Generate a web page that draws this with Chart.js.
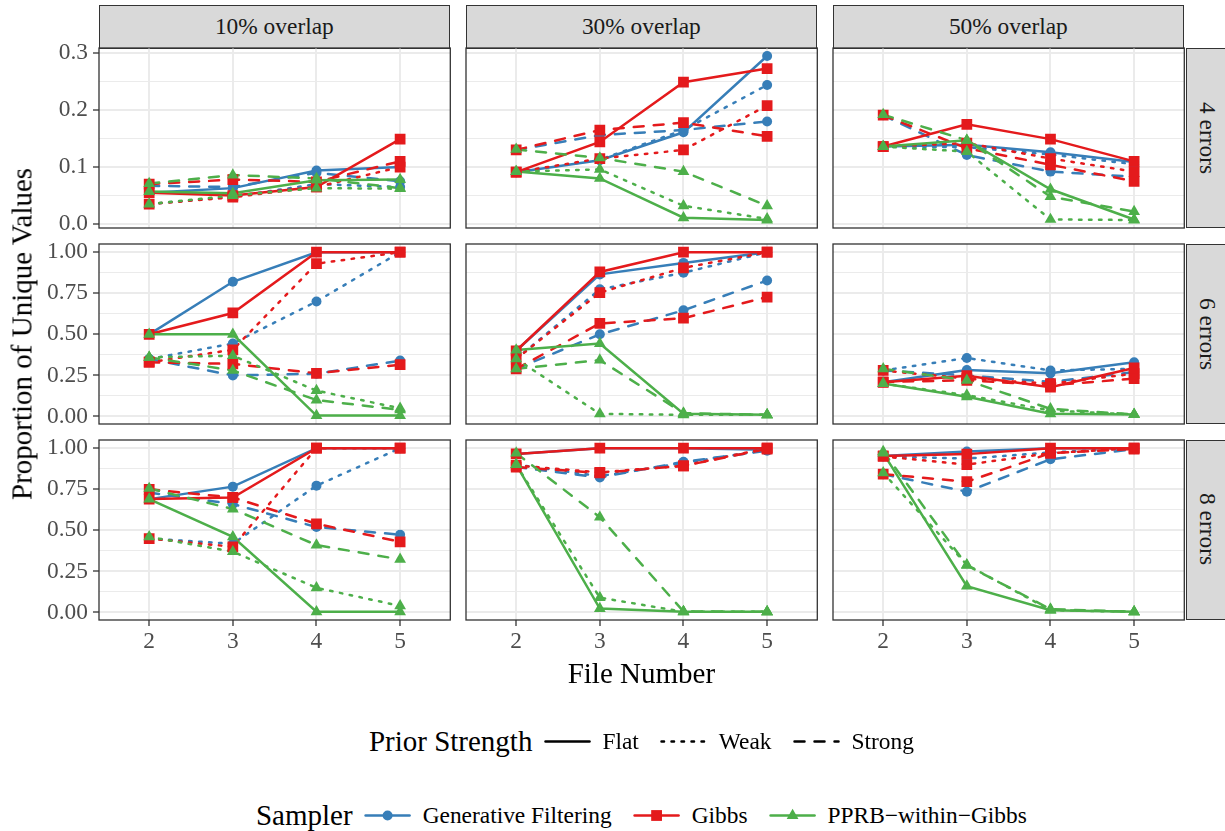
<!DOCTYPE html>
<html>
<head>
<meta charset="utf-8">
<script src="https://cdn.jsdelivr.net/npm/chart.js@4.4.1/dist/chart.umd.min.js"></script>
<style>
  html, body { margin: 0; padding: 0; background: #fff; }
  #page { position: relative; width: 1225px; height: 831px; overflow: hidden; font-family: 'Liberation Serif', 'Times New Roman', serif; }
  .strip { position: absolute; box-sizing: border-box; background: #d9d9d9; border: 1.3px solid #333; color: #1a1a1a; font-size: 23.4px; display: flex; align-items: center; justify-content: center; white-space: nowrap; }
  .strip.side { writing-mode: vertical-rl; }
  .panel { position: absolute; }
  .label { position: absolute; white-space: nowrap; color: #000; transform: translate(-50%, -50%); }
  .legend { position: absolute; display: flex; align-items: center; transform: translate(-50%, -50%); white-space: nowrap; }
  .legend .title { font-size: 29px; margin-right: 12px; }
  .legend .item { font-size: 23.4px; margin-left: 12px; margin-right: 22px; }
  .legend .item:last-child { margin-right: 0; }
  .legend svg { display: block; overflow: visible; }
</style>
</head>
<body>
<div id="page"></div>
<script>
// Facets: columns = overlap, rows = number of errors
const fileNumbers = [2, 3, 4, 5];
const overlapLabels = ['10% overlap', '30% overlap', '50% overlap'];
const errorLabels = ['4 errors', '6 errors', '8 errors'];
const samplerNames = ['Generative Filtering', 'Gibbs', 'PPRB\u2212within\u2212Gibbs'];
const priorNames = ['Flat', 'Weak', 'Strong'];

const yTicksTop = [0, 0.1, 0.2, 0.3];
const yMinorTop = [0.05, 0.15, 0.25];
const yTicksLower = [0, 0.25, 0.5, 0.75, 1];
const yMinorLower = [0.125, 0.375, 0.625, 0.875];

// each panel: GF flat/weak/strong, Gibbs flat/weak/strong, PPRB flat/weak/strong
const e4_o10 = [
  [0.055, 0.063, 0.094, 0.100], [0.035, 0.048, 0.070, 0.065], [0.067, 0.065, 0.090, 0.075],
  [0.055, 0.050, 0.065, 0.149], [0.035, 0.047, 0.065, 0.100], [0.070, 0.078, 0.074, 0.110],
  [0.057, 0.054, 0.077, 0.078], [0.035, 0.050, 0.063, 0.062], [0.071, 0.086, 0.080, 0.063]
];
const e4_o30 = [
  [0.091, 0.112, 0.161, 0.295], [0.091, 0.113, 0.165, 0.244], [0.130, 0.156, 0.165, 0.180],
  [0.091, 0.144, 0.249, 0.273], [0.091, 0.115, 0.130, 0.208], [0.130, 0.165, 0.178, 0.154],
  [0.092, 0.080, 0.011, 0.007], [0.092, 0.096, 0.032, 0.009], [0.131, 0.116, 0.092, 0.032]
];
const e4_o50 = [
  [0.136, 0.139, 0.126, 0.109], [0.136, 0.135, 0.122, 0.105], [0.191, 0.121, 0.092, 0.083],
  [0.136, 0.175, 0.149, 0.110], [0.136, 0.142, 0.115, 0.092], [0.191, 0.133, 0.104, 0.075],
  [0.136, 0.147, 0.061, 0.008], [0.136, 0.127, 0.008, 0.007], [0.192, 0.147, 0.048, 0.022]
];
const e6_o10 = [
  [0.50, 0.82, 1.00, 1.00], [0.35, 0.444, 0.70, 1.00], [0.35, 0.25, 0.26, 0.34],
  [0.50, 0.63, 1.00, 1.00], [0.33, 0.406, 0.93, 1.00], [0.33, 0.32, 0.263, 0.315],
  [0.50, 0.50, 0.005, 0.005], [0.36, 0.37, 0.157, 0.05], [0.36, 0.28, 0.10, 0.04]
];
const e6_o30 = [
  [0.40, 0.865, 0.935, 1.00], [0.35, 0.774, 0.875, 1.00], [0.29, 0.50, 0.646, 0.828],
  [0.40, 0.88, 1.00, 1.00], [0.35, 0.754, 0.905, 1.00], [0.29, 0.566, 0.598, 0.727],
  [0.404, 0.444, 0.016, 0.01], [0.35, 0.016, 0.01, 0.01], [0.29, 0.343, 0.02, 0.01]
];
const e6_o50 = [
  [0.208, 0.283, 0.263, 0.33], [0.28, 0.356, 0.28, 0.29], [0.28, 0.25, 0.21, 0.27],
  [0.208, 0.248, 0.178, 0.295], [0.28, 0.23, 0.20, 0.26], [0.21, 0.22, 0.19, 0.23],
  [0.20, 0.12, 0.016, 0.012], [0.20, 0.13, 0.036, 0.012], [0.29, 0.22, 0.046, 0.012]
];
const e8_o10 = [
  [0.69, 0.766, 1.00, 1.00], [0.45, 0.418, 0.772, 1.00], [0.73, 0.66, 0.52, 0.473],
  [0.69, 0.70, 1.00, 1.00], [0.45, 0.40, 1.00, 1.00], [0.75, 0.70, 0.54, 0.43],
  [0.69, 0.46, 0.004, 0.004], [0.46, 0.37, 0.15, 0.04], [0.755, 0.63, 0.41, 0.323]
];
const e8_o30 = [
  [0.965, 1.00, 1.00, 0.99], [0.90, 0.83, 0.91, 0.99], [0.885, 0.822, 0.917, 0.984],
  [0.965, 1.00, 1.00, 1.00], [0.895, 0.853, 0.893, 1.00], [0.885, 0.85, 0.893, 0.995],
  [0.90, 0.024, 0.004, 0.004], [0.90, 0.09, 0.004, 0.004], [0.97, 0.58, 0.006, 0.004]
];
const e8_o50 = [
  [0.953, 0.98, 1.00, 1.00], [0.95, 0.937, 0.974, 1.00], [0.842, 0.735, 0.933, 0.994],
  [0.953, 0.964, 1.00, 1.00], [0.95, 0.90, 0.97, 1.00], [0.842, 0.796, 0.97, 0.995],
  [0.97, 0.16, 0.014, 0.004], [0.85, 0.29, 0.014, 0.004], [0.98, 0.287, 0.02, 0.004]
];

const panelData = [
  [e4_o10, e4_o30, e4_o50],
  [e6_o10, e6_o30, e6_o50],
  [e8_o10, e8_o30, e8_o50]
];

// styling
const samplerColors = ['#377EB8', '#E41A1C', '#4DAF4A'];
const samplerPoints = ['circle', 'rect', 'triangle'];
const samplerRadius = [5, 7.6, 6.8];
const LW = 2.5;
const priorDash = [[], [LW, 3 * LW], [4 * LW, 4 * LW]];
const FONT = "'Liberation Serif', 'Times New Roman', serif";

const colLeft = [98.7, 465.7, 832.7];
const rowTop = [48, 244, 439.5];
const panelW = 351.3;
const panelH = 180;
const M = 24;

const page = document.getElementById('page');

const panelFrame = {
  id: 'panelFrame',
  afterDraw(chart) {
    const { ctx, chartArea: a } = chart;
    ctx.save();
    ctx.strokeStyle = '#333333';
    ctx.lineWidth = 1.3;
    ctx.strokeRect(a.left, a.top, a.right - a.left, a.bottom - a.top);
    ctx.restore();
  }
};

function buildDatasets(rows) {
  const lines = [];
  const points = [];
  for (let s = 0; s < 3; s++) {
    for (let p = 0; p < 3; p++) {
      const values = rows[s * 3 + p];
      const data = fileNumbers.map((x, i) => ({ x: x, y: values[i] }));
      lines.push({
        label: samplerNames[s] + ' ' + priorNames[p],
        data: data,
        borderColor: samplerColors[s],
        borderWidth: LW,
        borderDash: priorDash[p],
        borderCapStyle: 'round',
        pointRadius: 0,
        pointHoverRadius: 0,
        fill: false,
        tension: 0,
        order: 5 - s
      });
      points.push({
        label: samplerNames[s] + ' ' + priorNames[p] + ' points',
        data: data,
        showLine: false,
        pointStyle: samplerPoints[s],
        pointRadius: samplerRadius[s],
        pointHoverRadius: samplerRadius[s],
        pointBackgroundColor: samplerColors[s],
        pointBorderColor: samplerColors[s],
        pointBorderWidth: 0,
        order: 2 - s
      });
    }
  }
  return lines.concat(points);
}

function makePanel(r, c) {
  const padL = c === 0 ? 62 : 0;
  const padB = r === 2 ? 42 : 0;
  const major = r === 0 ? yTicksTop : yTicksLower;
  const minor = r === 0 ? yMinorTop : yMinorLower;
  const yRange = r === 0 ? [-0.007, 0.309] : [-0.046, 1.05];
  const digits = r === 0 ? 1 : 2;
  const leftPad = c === 0 ? 0 : M;
  const bottomPad = padB ? 0 : M;

  const box = document.createElement('div');
  box.className = 'panel';
  box.style.left = (colLeft[c] - padL - leftPad) + 'px';
  box.style.top = (rowTop[r] - M) + 'px';
  box.style.width = (panelW + padL + leftPad + M) + 'px';
  box.style.height = (panelH + M + padB + bottomPad) + 'px';
  const canvas = document.createElement('canvas');
  box.appendChild(canvas);
  page.appendChild(box);

  new Chart(canvas, {
    type: 'line',
    data: { datasets: buildDatasets(panelData[r][c]) },
    options: {
      responsive: true,
      maintainAspectRatio: false,
      animation: false,
      events: [],
      layout: { padding: { top: M, right: M, left: leftPad, bottom: bottomPad } },
      plugins: { legend: { display: false }, tooltip: { enabled: false } },
      scales: {
        x: {
          type: 'linear',
          min: 1.4,
          max: 5.6,
          afterBuildTicks: (scale) => { scale.ticks = fileNumbers.map(v => ({ value: v })); },
          afterFit: (scale) => { scale.height = padB; },
          border: { display: false },
          grid: {
            color: '#ebebeb',
            lineWidth: 2,
            drawTicks: r === 2,
            tickLength: 6,
            tickColor: '#333333',
            tickWidth: 1.3
          },
          ticks: {
            display: r === 2,
            color: '#4d4d4d',
            font: { family: FONT, size: 23.4 },
            padding: 2,
            maxRotation: 0,
            autoSkip: false,
            callback: (v) => String(v)
          }
        },
        y: {
          type: 'linear',
          min: yRange[0],
          max: yRange[1],
          afterBuildTicks: (scale) => {
            scale.ticks = major.concat(minor).sort((a, b) => a - b).map(v => ({ value: v }));
          },
          afterFit: (scale) => { scale.width = padL; },
          border: { display: false },
          grid: {
            color: '#ebebeb',
            lineWidth: (ctx) => (ctx.tick && minor.includes(ctx.tick.value) ? 1 : 2),
            drawTicks: c === 0,
            tickLength: 6,
            tickColor: (ctx) => (ctx.tick && minor.includes(ctx.tick.value) ? 'rgba(0,0,0,0)' : '#333333'),
            tickWidth: 1.3
          },
          ticks: {
            display: c === 0,
            color: '#4d4d4d',
            font: { family: FONT, size: 23.4 },
            padding: 5,
            autoSkip: false,
            callback: (v) => (minor.includes(v) ? '' : v.toFixed(digits))
          }
        }
      }
    },
    plugins: [panelFrame]
  });
}

function addDiv(cls, text, styles) {
  const d = document.createElement('div');
  d.className = cls;
  d.textContent = text;
  Object.assign(d.style, styles);
  page.appendChild(d);
  return d;
}

// strips
for (let c = 0; c < 3; c++) {
  addDiv('strip', overlapLabels[c], {
    left: colLeft[c] + 'px', top: '4.7px', width: panelW + 'px', height: (rowTop[0] - 4.7 + 0.6) + 'px'
  });
}
for (let r = 0; r < 3; r++) {
  addDiv('strip side', errorLabels[r], {
    left: '1185.5px', top: rowTop[r] + 'px', width: '43.3px', height: panelH + 'px'
  });
}

for (let r = 0; r < 3; r++) {
  for (let c = 0; c < 3; c++) makePanel(r, c);
}

// axis titles
addDiv('label', 'Proportion of Unique Values', {
  left: '22px', top: '334px', fontSize: '29px', transform: 'translate(-50%, -50%) rotate(-90deg)'
});
addDiv('label', 'File Number', { left: '641.4px', top: '673px', fontSize: '29px' });

// legends
const SVGNS = 'http://www.w3.org/2000/svg';

function keySvg(color, dash, shape) {
  const svg = document.createElementNS(SVGNS, 'svg');
  svg.setAttribute('width', '46');
  svg.setAttribute('height', '30');
  const line = document.createElementNS(SVGNS, 'line');
  line.setAttribute('x1', '1');
  line.setAttribute('x2', '45');
  line.setAttribute('y1', '15');
  line.setAttribute('y2', '15');
  line.setAttribute('stroke', color);
  line.setAttribute('stroke-width', String(LW));
  line.setAttribute('stroke-linecap', 'round');
  if (dash.length) line.setAttribute('stroke-dasharray', dash.join(' '));
  svg.appendChild(line);
  if (shape === 'circle') {
    const el = document.createElementNS(SVGNS, 'circle');
    el.setAttribute('cx', '23'); el.setAttribute('cy', '15'); el.setAttribute('r', '5');
    el.setAttribute('fill', color);
    svg.appendChild(el);
  } else if (shape === 'rect') {
    const el = document.createElementNS(SVGNS, 'rect');
    el.setAttribute('x', '17.6'); el.setAttribute('y', '9.6');
    el.setAttribute('width', '10.8'); el.setAttribute('height', '10.8');
    el.setAttribute('fill', color);
    svg.appendChild(el);
  } else if (shape === 'triangle') {
    const el = document.createElementNS(SVGNS, 'polygon');
    el.setAttribute('points', '23,8.2 28.9,18.4 17.1,18.4');
    el.setAttribute('fill', color);
    svg.appendChild(el);
  }
  return svg;
}

function addLegend(title, y, entries) {
  const lg = document.createElement('div');
  lg.className = 'legend';
  lg.style.left = '641.4px';
  lg.style.top = y + 'px';
  const t = document.createElement('span');
  t.className = 'title';
  t.textContent = title;
  lg.appendChild(t);
  entries.forEach(e => {
    lg.appendChild(keySvg(e.color, e.dash, e.shape));
    const s = document.createElement('span');
    s.className = 'item';
    s.textContent = e.text;
    lg.appendChild(s);
  });
  page.appendChild(lg);
}

addLegend('Prior Strength', 741, priorNames.map((p, i) => ({ text: p, color: '#000', dash: priorDash[i], shape: null })));
addLegend('Sampler', 815, samplerNames.map((s, i) => ({ text: s, color: samplerColors[i], dash: [], shape: samplerPoints[i] })));
</script>
</body>
</html>
